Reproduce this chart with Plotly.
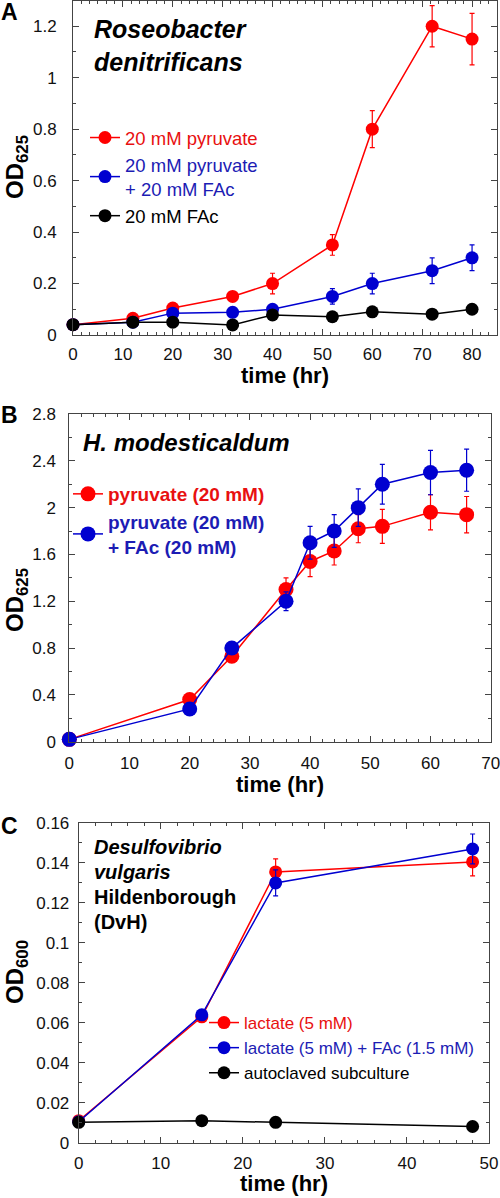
import plotly.graph_objects as go

# ---------------- Data ----------------
# Panel A: Roseobacter denitrificans
a_time = [0, 12, 20, 32, 40, 52, 60, 72, 80]
a_pyr = [0.04, 0.065, 0.105, 0.15, 0.2, 0.35, 0.8, 1.2, 1.15]
a_pyr_err = [0, 0, 0, 0, 0.04, 0.04, 0.072, 0.08, 0.1]
a_pyr_fac = [0.04, 0.05, 0.085, 0.088, 0.1, 0.15, 0.2, 0.25, 0.3]
a_pyr_fac_err = [0, 0, 0, 0, 0, 0.03, 0.04, 0.05, 0.05]
a_fac = [0.04, 0.05, 0.05, 0.039, 0.078, 0.071, 0.09, 0.081, 0.1]

# Panel B: H. modesticaldum
b_time = [0, 20, 27, 36, 40, 44, 48, 52, 60, 66]
b_pyr = [0.02, 0.36, 0.73, 1.3, 1.54, 1.63, 1.82, 1.84, 1.96, 1.94]
b_pyr_err = [0, 0, 0, 0.1, 0.13, 0.12, 0.12, 0.145, 0.15, 0.155]
b_pyr_fac = [0.02, 0.28, 0.8, 1.2, 1.7, 1.8, 2.0, 2.2, 2.3, 2.32]
b_pyr_fac_err = [0, 0, 0, 0.08, 0.14, 0.14, 0.16, 0.17, 0.19, 0.18]

# Panel C: Desulfovibrio vulgaris Hildenborough
c_time = [0, 15, 24, 48]
c_lac = [0.011, 0.063, 0.1355, 0.1405]
c_lac_err = [0, 0, 0.0065, 0.007]
c_lac_fac = [0.0105, 0.064, 0.13, 0.147]
c_lac_fac_err = [0, 0, 0.0065, 0.0075]
c_auto = [0.0102, 0.011, 0.0102, 0.0081]

# Axis tick settings
a_xticks = [0, 10, 20, 30, 40, 50, 60, 70, 80]
a_yticks = [0, 0.2, 0.4, 0.6, 0.8, 1.0, 1.2]
b_xticks = [0, 10, 20, 30, 40, 50, 60, 70]
b_yticks = [0, 0.4, 0.8, 1.2, 1.6, 2.0, 2.4, 2.8]
c_xticks = [0, 10, 20, 30, 40, 50]
c_yticks = [0, 0.02, 0.04, 0.06, 0.08, 0.1, 0.12, 0.14, 0.16]

RED = "#ff0000"
BLUE = "#0000d0"
BLACK = "#000000"
RED_T = "#e81010"
BLUE_T = "#1c1cb4"
FONT = "Arial, Liberation Sans, sans-serif"

H = 1198
W = 500

def py(px):
    return 1 - px / H

def px_(x):
    return x / W

fig = go.Figure()

def add_series(x, y, err, color, xa, ya, legend, size, label):
    kw = {}
    if err is not None:
        kw["error_y"] = dict(type="data", array=err, visible=True, color=color,
                             thickness=1.2, width=2.5)
    fig.add_trace(go.Scatter(
        x=x, y=y, mode="lines+markers", name=label,
        line=dict(color=color, width=1.5),
        marker=dict(color=color, size=size, line=dict(width=0)),
        xaxis=xa, yaxis=ya, legend=legend, cliponaxis=False, **kw))

# Panel A
add_series(a_time, a_pyr, a_pyr_err, RED, "x", "y", "legend", 13,
           f"<span style='color:{RED_T}'>20 mM pyruvate</span>")
add_series(a_time, a_pyr_fac, a_pyr_fac_err, BLUE, "x", "y", "legend", 13,
           f"<span style='color:{BLUE_T}'>20 mM pyruvate</span><br><span style='color:{BLUE_T}'>+ 20 mM FAc</span>")
add_series(a_time, a_fac, None, BLACK, "x", "y", "legend", 13,
           "<span style='color:#000'>20 mM FAc</span>")

# Panel B
add_series(b_time, b_pyr, b_pyr_err, RED, "x2", "y2", "legend2", 15,
           f"<span style='color:{RED_T}'>pyruvate (20 mM)</span>")
add_series(b_time, b_pyr_fac, b_pyr_fac_err, BLUE, "x2", "y2", "legend2", 15,
           f"<span style='color:{BLUE_T}'>pyruvate (20 mM)</span><br><span style='color:{BLUE_T}'>+ FAc (20 mM)</span>")

# Panel C
add_series(c_time, c_lac, c_lac_err, RED, "x3", "y3", "legend3", 13,
           f"<span style='color:{RED_T}'>lactate (5 mM)</span>")
add_series(c_time, c_lac_fac, c_lac_fac_err, BLUE, "x3", "y3", "legend3", 13,
           f"<span style='color:{BLUE_T}'>lactate (5 mM) + FAc (1.5 mM)</span>")
add_series(c_time, c_auto, None, BLACK, "x3", "y3", "legend3", 13,
           "<span style='color:#000'>autoclaved subculture</span>")

AXCOL = "#444444"

def axis(rng, ticks, domain, anchor, minor_dtick, standoff):
    return dict(
        range=rng, tickvals=ticks, domain=domain, anchor=anchor,
        showline=True, linecolor=AXCOL, linewidth=1, mirror="ticks",
        ticks="inside", ticklen=6, tickwidth=1, tickcolor=AXCOL,
        minor=dict(dtick=minor_dtick, ticks="inside", ticklen=3, tickwidth=1, tickcolor=AXCOL),
        showgrid=False, zeroline=False, automargin=False,
        tickfont=dict(family=FONT, size=17, color="#111"),
        ticklabelstandoff=standoff, ticklabeloverflow="allow", fixedrange=True,
    )

# plot-area pixel boxes
A_box = dict(x0=73, x1=497, y0=0.5, y1=335)
B_box = dict(x0=69.3, x1=490.7, y0=414, y1=741.7)
C_box = dict(x0=78.7, x1=489, y0=823, y1=1142.7)

def dom_x(b):
    return [px_(b["x0"]), px_(b["x1"])]

def dom_y(b):
    return [py(b["y1"]), py(b["y0"])]

fig.update_layout(
    template="none",
    width=W, height=H, autosize=False,
    margin=dict(l=0, r=0, t=0, b=0, pad=0),
    paper_bgcolor="white", plot_bgcolor="white",
    font=dict(family=FONT, color="#111"),
    xaxis=axis([0, 85], a_xticks, dom_x(A_box), "y", 10 / 6, 4),
    yaxis=axis([0, 1.3], a_yticks, dom_y(A_box), "x", 0.1, 12),
    xaxis2=axis([0, 70], b_xticks, dom_x(B_box), "y2", 2, 6),
    yaxis2=axis([0, 2.8], b_yticks, dom_y(B_box), "x2", 0.2, 9),
    xaxis3=axis([0, 50], c_xticks, dom_x(C_box), "y3", 2, 5),
    yaxis3=axis([0, 0.16], c_yticks, dom_y(C_box), "x3", 0.01, 5),
    legend=dict(x=px_(85), y=py(119), xanchor="left", yanchor="top",
                bgcolor="rgba(0,0,0,0)", font=dict(family=FONT, size=18.5),
                tracegroupgap=0, itemwidth=30),
    legend2=dict(x=px_(68), y=py(475), xanchor="left", yanchor="top",
                 bgcolor="rgba(0,0,0,0)", font=dict(family=FONT, size=19, weight="bold"),
                 tracegroupgap=0, itemwidth=30),
    legend3=dict(x=px_(204), y=py(1005), xanchor="left", yanchor="top",
                 bgcolor="rgba(0,0,0,0)", font=dict(family=FONT, size=17),
                 tracegroupgap=0, itemwidth=30),
    showlegend=True,
)

ann = []

def label(text, x, y, size, bold=True, italic=False, angle=0, xanchor="left", color="#000"):
    ann.append(dict(text=text, x=px_(x), y=py(y), xref="paper", yref="paper",
                    xanchor=xanchor, yanchor="middle", showarrow=False, textangle=angle,
                    borderpad=0, borderwidth=0,
                    font=dict(family=FONT, size=size, color=color,
                              weight="bold" if bold else "normal",
                              style="italic" if italic else "normal")))

# Panel letters
label("A", 1, 12, 23)
label("B", 1, 415, 23)
label("C", 1, 826, 23)

# Species labels
label("Roseobacter", 94, 29, 25, italic=True)
label("denitrificans", 94, 62, 25, italic=True)
label("H. modesticaldum", 83, 442, 24, italic=True)
label("Desulfovibrio", 94, 847, 20, italic=True)
label("vulgaris", 94, 872, 20, italic=True)
label("Hildenborough", 94, 897, 20)
label("(DvH)", 94, 922, 20)

# Axis titles
label("time (hr)", 285, 375, 22, xanchor="center")
label("time (hr)", 280, 784, 22, xanchor="center")
label("time (hr)", 284, 1183, 22, xanchor="center")
label("OD<sub>625</sub>", 16, 167, 24, angle=-90, xanchor="center")
label("OD<sub>625</sub>", 16, 600, 24, angle=-90, xanchor="center")
label("OD<sub>600</sub>", 16, 972, 24, angle=-90, xanchor="center")

fig.update_layout(annotations=ann)

fig.write_html(
    "out.html",
    config={"displayModeBar": False, "staticPlot": False},
    post_script="document.body.style.margin='0';document.body.style.overflow='hidden';",
)
